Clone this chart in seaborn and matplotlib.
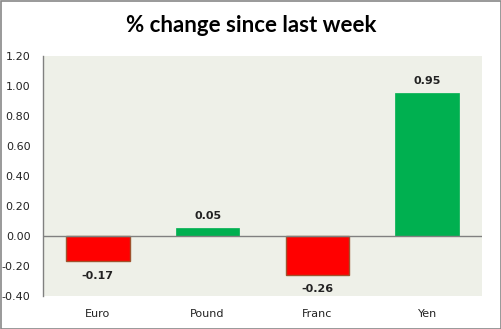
import matplotlib
matplotlib.use("Agg")
import matplotlib.pyplot as plt
import seaborn as sns
from matplotlib.patches import Rectangle

currencies = ["Euro", "Pound", "Franc", "Yen"]
pct_change = [-0.17, 0.05, -0.26, 0.95]
y_ticks = [-0.40, -0.20, 0.00, 0.20, 0.40, 0.60, 0.80, 1.00, 1.20]

UP = "#00B050"
DOWN = "#FF0000"
bar_colors = [UP if v >= 0 else DOWN for v in pct_change]

sns.set_style("white")
plt.rcParams["font.family"] = ["DejaVu Sans"]

fig = plt.figure(figsize=(5.02, 3.29), dpi=100)
ax = fig.add_axes([43 / 502, 1 - 295.5 / 329, (482 - 43) / 502, (295.5 - 56) / 329])
ax.set_facecolor("#EEF0E8")

sns.barplot(x=currencies, y=pct_change, hue=currencies, palette=bar_colors,
            legend=False, width=0.58, ax=ax, saturation=1)

for patch, v in zip(ax.patches, pct_change):
    if v < 0:
        patch.set_edgecolor("#A0522D")
        patch.set_linewidth(1.0)
    else:
        patch.set_edgecolor(UP)
        patch.set_linewidth(0.5)

ax.set_ylim(-0.40, 1.20)
ax.set_xlim(-0.5, len(currencies) - 0.5)
ax.set_yticks(y_ticks)
ax.set_yticklabels([f"{t:.2f}" for t in y_ticks], fontsize=8, color="#222222")
ax.tick_params(axis="y", length=0, pad=9)
ax.tick_params(axis="x", length=0, pad=10, labelsize=8, labelcolor="#222222")
ax.set_xlabel("")
ax.set_ylabel("")

for side in ("top", "right", "bottom"):
    ax.spines[side].set_visible(False)
ax.spines["left"].set_color("#808080")
ax.spines["left"].set_linewidth(1.0)
ax.axhline(0, color="#808080", linewidth=1.0, zorder=1)

for i, v in enumerate(pct_change):
    if v >= 0:
        ax.annotate(f"{v:.2f}", (i, v), xytext=(0, 5), textcoords="offset points",
                    ha="center", va="bottom", fontsize=8, fontweight="bold", color="#222222")
    else:
        ax.annotate(f"{v:.2f}", (i, v), xytext=(0, -7), textcoords="offset points",
                    ha="center", va="top", fontsize=8, fontweight="bold", color="#222222")

fig.text(0.5, 1 - 26 / 329, "% change since last week", ha="center", va="center",
         fontsize=16, fontweight="bold", family=["Lato", "DejaVu Sans"], color="black")

fig.patches.append(Rectangle((0.5 / 502, 0.5 / 329), 1 - 1.5 / 502, 1 - 1.5 / 329,
                             transform=fig.transFigure, fill=False,
                             edgecolor="#888888", linewidth=1.2))

fig.savefig("out.png", dpi=100)
